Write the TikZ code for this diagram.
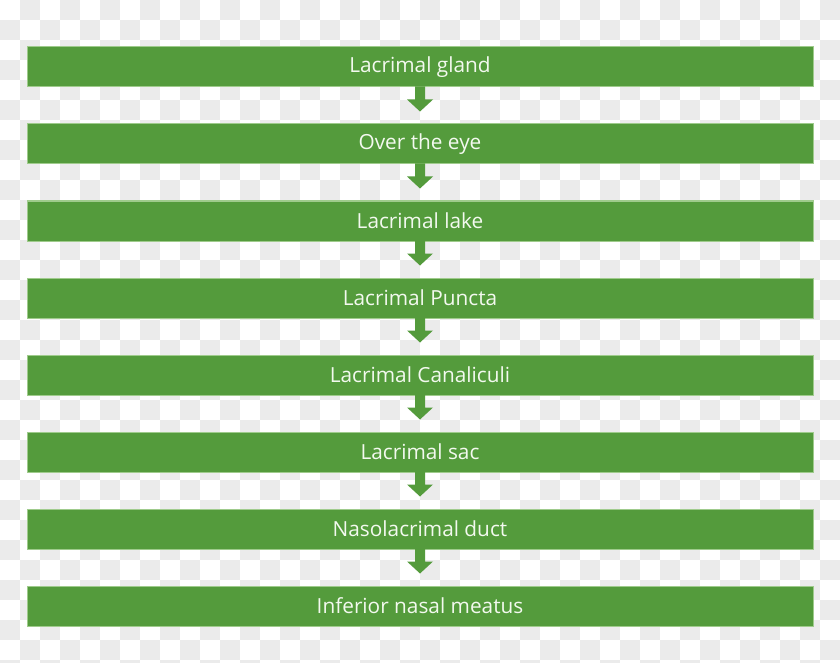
\documentclass[tikz,border=0pt]{standalone}
\usepackage{fontspec}
\setmainfont{Open Sans}
\usetikzlibrary{calc}
\definecolor{boxgreen}{HTML}{549B3C}
\definecolor{edgegreen}{HTML}{9FCB8C}
\definecolor{checkgray}{HTML}{EBEBEB}
\definecolor{txtcol}{HTML}{F3F9EF}
\pgfdeclarelayer{whitelayer}
\pgfsetlayers{whitelayer,main}
\tikzset{
  stagebox/.style={rectangle, fill=boxgreen, draw=edgegreen, line width=1pt,
    minimum width=786pt, minimum height=40pt, inner sep=0pt,
    text=txtcol, font=\fontsize{20.8}{24}\selectfont},
  halo/.style={draw=white, line width=10pt, fill=white},
  arrowfill/.style={fill=boxgreen},
}
\begin{document}
\begin{tikzpicture}[x=1pt,y=-1pt]
\useasboundingbox (0,0) rectangle (840,663);
\fill[white] (0,0) rectangle (840,663);
\foreach \r in {0,...,33}{
  \pgfmathtruncatemacro\s{mod(\r+1,2)}
  \foreach \c in {0,...,20}{
    \fill[checkgray] (\s*20+\c*40,\r*20) rectangle ++(20,20);
  }
}
\node[stagebox] (b1) at (420,67) {Lacrimal gland};
\node[stagebox] (b2) at (420,144) {Over the eye};
\node[stagebox] (b3) at (420,221) {Lacrimal lake};
\node[stagebox] (b4) at (420,298) {Lacrimal Puncta};
\node[stagebox] (b5) at (420,375) {Lacrimal Canaliculi};
\node[stagebox] (b6) at (420,452) {Lacrimal sac};
\node[stagebox] (b7) at (420,529) {Nasolacrimal duct};
\node[stagebox] (b8) at (420,606) {Inferior nasal meatus};
\begin{pgfonlayer}{whitelayer}
\foreach \i in {1,...,8}{
  \draw[halo] (b\i.south west) rectangle (b\i.north east);
}
\foreach \i in {1,...,7}{
  \draw[halo, line join=round]
    ($(b\i.south)+(-5,-2)$) -- ($(b\i.south)+(-5,12)$) -- ($(b\i.south)+(-13,12)$)
    -- ($(b\i.south)+(0,25)$) -- ($(b\i.south)+(13,12)$) -- ($(b\i.south)+(5,12)$)
    -- ($(b\i.south)+(5,-2)$) -- cycle;
}
\end{pgfonlayer}
\foreach \i [evaluate=\i as \j using int(\i+1)] in {1,...,7}{
  \fill[arrowfill]
    ($(b\i.south)+(-5,-1)$) -- ($(b\i.south)+(-5,12)$) -- ($(b\i.south)+(-13,12)$)
    -- ($(b\j.north)+(0,-12)$) -- ($(b\i.south)+(13,12)$) -- ($(b\i.south)+(5,12)$)
    -- ($(b\i.south)+(5,-1)$) -- cycle;
}
\end{tikzpicture}
\end{document}
